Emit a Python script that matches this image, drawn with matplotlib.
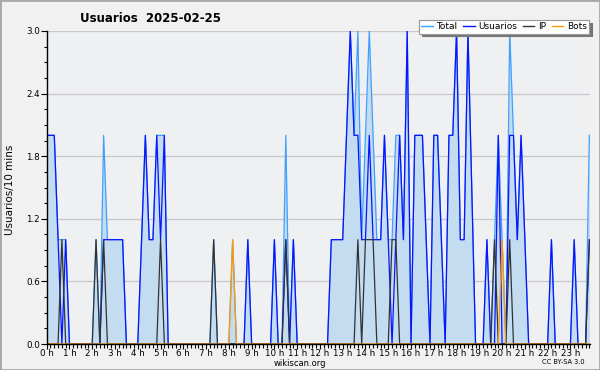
import matplotlib
matplotlib.use("Agg")
import matplotlib.pyplot as plt
import numpy as np
from matplotlib.lines import Line2D
from matplotlib.patches import Rectangle
from matplotlib.ticker import MultipleLocator, FixedLocator

# 10-minute slots of 2025-02-25 (144 values)
usuarios = [
    2, 2, 2, 1, 0, 1, 0, 0, 0, 0, 0, 0,          # 0h-1h50
    0, 0, 0, 1, 1, 1, 1, 1, 1, 0, 0, 0,          # 2h-3h50
    0, 1, 2, 1, 1, 2, 1, 2, 0, 0, 0, 0,          # 4h-5h50
    0, 0, 0, 0, 0, 0, 0, 0, 0, 0, 0, 0,          # 6h-7h50
    0, 0, 0, 0, 0, 1, 0, 0, 0, 0, 0, 0,          # 8h-9h50
    1, 0, 0, 1, 0, 1, 0, 0, 0, 0, 0, 0,          # 10h-11h50
    0, 0, 0, 1, 1, 1, 1, 2, 3, 2, 2, 1,          # 12h-13h50
    1, 2, 1, 1, 1, 2, 1, 0, 1, 2, 1, 3,          # 14h-15h50
    0, 2, 2, 2, 1, 0, 2, 2, 1, 0, 2, 2,          # 16h-17h50
    3, 1, 1, 3, 1.5, 0, 0, 0, 1, 0, 0, 2,        # 18h-19h50
    0, 0, 2, 2, 1, 2, 1, 0, 0, 0, 0, 0,          # 20h-21h50
    0, 1, 0, 0, 0, 0, 0, 1, 0, 0, 0, 1,          # 22h-23h50
]
ip = [
    0, 0, 0, 0, 1, 0, 0, 0, 0, 0, 0, 0,
    0, 1, 0, 1, 0, 0, 0, 0, 0, 0, 0, 0,
    0, 0, 0, 0, 0, 0, 1, 0, 0, 0, 0, 0,
    0, 0, 0, 0, 0, 0, 0, 0, 1, 0, 0, 0,
    0, 0, 0, 0, 0, 0, 0, 0, 0, 0, 0, 0,
    0, 0, 0, 1, 0, 0, 0, 0, 0, 0, 0, 0,
    0, 0, 0, 0, 0, 0, 0, 0, 0, 0, 1, 0,
    1, 1, 1, 0, 0, 0, 0, 1, 1, 0, 0, 0,
    0, 0, 0, 0, 0, 0, 0, 0, 0, 0, 0, 0,
    0, 0, 0, 0, 0, 0, 0, 0, 0, 0, 1, 0,
    0, 0, 1, 0, 0, 0, 0, 0, 0, 0, 0, 0,
    0, 0, 0, 0, 0, 0, 0, 0, 0, 0, 0, 1,
]
bots = [
    0, 0, 0, 0, 0, 0, 0, 0, 0, 0, 0, 0,
    0, 0, 0, 0, 0, 0, 0, 0, 0, 0, 0, 0,
    0, 0, 0, 0, 0, 0, 0, 0, 0, 0, 0, 0,
    0, 0, 0, 0, 0, 0, 0, 0, 0, 0, 0, 0,
    0, 1, 0, 0, 0, 0, 0, 0, 0, 0, 0, 0,
    0, 0, 0, 0, 0, 0, 0, 0, 0, 0, 0, 0,
    0, 0, 0, 0, 0, 0, 0, 0, 0, 0, 0, 0,
    0, 0, 0, 0, 0, 0, 0, 0, 0, 0, 0, 0,
    0, 0, 0, 0, 0, 0, 0, 0, 0, 0, 0, 0,
    0, 0, 0, 0, 0, 0, 0, 0, 0, 0, 0, 0,
    1, 0, 0, 0, 0, 0, 0, 0, 0, 0, 0, 0,
    0, 0, 0, 0, 0, 0, 0, 0, 0, 0, 0, 0,
]
hour_labels = [f"{h} h" for h in range(24)]
y_ticks = [0.0, 0.6, 1.2, 1.8, 2.4, 3.0]

u = np.array(usuarios, dtype=float)
p = np.array(ip, dtype=float)
b = np.array(bots, dtype=float)
total = u + p + b
x = np.arange(len(u)) / 6.0

plt.rcParams['font.family'] = ['DejaVu Sans']

fig = plt.figure(figsize=(6, 3.7), dpi=100, facecolor='#f1f1f1')
ax = fig.add_axes([46.7/600, 26/370, (590-46.7)/600, (344-31)/370])
ax.set_facecolor('#eff0f2')

c_total = '#3fa0ff'
c_user = '#0a14ff'
c_ip = '#333333'
c_bots = '#ff9900'

ax.fill_between(x, 0, total, color='#c4dcf0', lw=0, zorder=1)
ax.plot(x, total, color=c_total, lw=0.9, zorder=3)
ax.plot(x, u, color=c_user, lw=0.9, zorder=4)
ax.plot(x, p, color=c_ip, lw=0.9, zorder=5)
ax.plot(x, b, color=c_bots, lw=0.9, zorder=6)

ax.set_xlim(0, (590-46.7)/3.795/6)
ax.set_ylim(0, 3.0)

ax.yaxis.set_major_locator(FixedLocator(y_ticks))
ax.set_yticklabels([f"{v:.1f}" for v in y_ticks])
ax.yaxis.set_minor_locator(MultipleLocator(0.15))
ax.xaxis.set_major_locator(FixedLocator(range(24)))
ax.set_xticklabels(hour_labels)
ax.xaxis.set_minor_locator(MultipleLocator(1/6))

ax.tick_params(axis='both', which='both', direction='out', colors='black',
               labelsize=6.3, width=0.8)
ax.tick_params(axis='y', which='major', length=4, pad=1)
ax.tick_params(axis='y', which='minor', length=2)
ax.tick_params(axis='x', which='major', length=3.5, pad=0)
ax.tick_params(axis='x', which='minor', length=3)

ax.grid(axis='y', which='major', color='#c8c8c8', lw=0.9, zorder=0)
ax.set_axisbelow(True)
for s in ['top', 'right']:
    ax.spines[s].set_visible(False)
for s in ['left', 'bottom']:
    ax.spines[s].set_linewidth(1.0)
    ax.spines[s].set_zorder(10)

fig.text(10/600, 1-190/370, 'Usuarios/10 mins', rotation=90, va='center',
         ha='center', fontsize=7.5)
fig.text(151/600, 1-18/370, 'Usuarios  2025-02-25', ha='center', va='center',
         fontsize=8.5, fontweight='bold')
fig.text(300/600, 1-363/370, 'wikiscan.org', ha='center', va='center', fontsize=6)
fig.text(563/600, 1-362/370, 'CC BY-SA 3.0', ha='center', va='center', fontsize=4.8)

handles = [Line2D([], [], color=c, lw=1) for c in [c_total, c_user, c_ip, c_bots]]
leg = fig.legend(handles, ['Total', 'Usuarios', 'IP', 'Bots'], ncol=4,
                 loc='upper right', bbox_to_anchor=(589/600, 1-20/370),
                 fontsize=6.5, frameon=True, fancybox=False,
                 shadow={'color': '#777777', 'alpha': 1},
                 handlelength=1.3, handletextpad=0.4, columnspacing=0.6,
                 borderpad=0.25, borderaxespad=0)
leg.get_frame().set_edgecolor('#999999')
leg.get_frame().set_linewidth(0.8)
leg.get_frame().set_facecolor('white')

fig.patches.append(Rectangle((0, 0), 1, 1, transform=fig.transFigure,
                             fill=False, edgecolor='#a8a8a8', lw=2))

fig.savefig('out.png', dpi=100, facecolor=fig.get_facecolor())
